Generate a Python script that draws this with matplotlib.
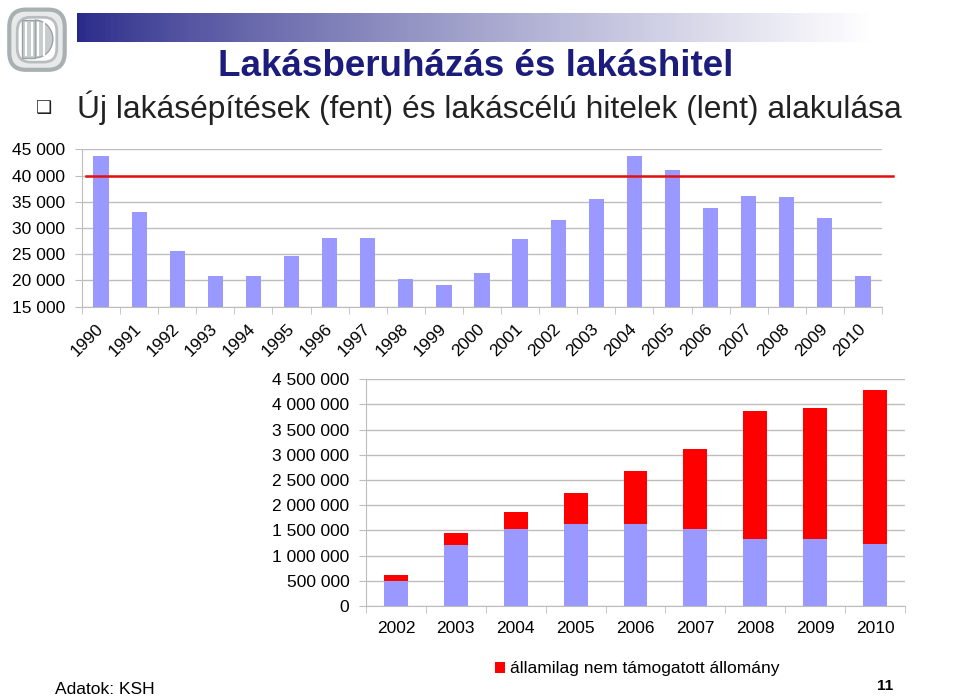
import numpy as np
import matplotlib
matplotlib.use("Agg")
import matplotlib.pyplot as plt
from matplotlib.patches import FancyBboxPatch, Rectangle, Wedge
from matplotlib.ticker import FuncFormatter, FixedLocator
from matplotlib.transforms import ScaledTranslation

plt.rcParams['font.family'] = ['Liberation Sans', 'DejaVu Sans']

# data: new dwellings (top)
years_top = [str(y) for y in range(1990, 2011)]
dwellings = [43700, 33100, 25700, 20850, 20850, 24600, 28150, 28050, 20200, 19200,
             21500, 27950, 31450, 35500, 43800, 41000, 33750, 36050, 35900, 31900, 20800]
threshold = 40000

# data: housing loans (bottom)
years_bot = [str(y) for y in range(2002, 2011)]
supported = [500000, 1215000, 1535000, 1635000, 1630000, 1530000, 1335000, 1335000, 1235000]
unsupported = [115000, 230000, 335000, 610000, 1045000, 1580000, 2535000, 2590000, 3045000]

BLUE = '#9999ff'
RED = '#ff0000'
GRID = '#bdbdbd'

def space_thousands(v, pos):
    return f"{v:,.0f}".replace(",", " ")

W, H = 960, 699
fig = plt.figure(figsize=(W / 100, H / 100), dpi=100)

# header: gradient bar
grad_ax = fig.add_axes([77 / W, 1 - 42 / H, (W - 77) / W, 29 / H])
g = np.linspace(0, 1, 256)
c0 = np.array([0.16, 0.16, 0.54])
c1 = np.array([1.0, 1.0, 1.0])
t = np.clip(g / 0.9, 0, 1) ** 0.8
img = (c0[None, :] * (1 - t[:, None]) + c1[None, :] * t[:, None])[None, :, :]
grad_ax.imshow(img, aspect='auto', extent=[0, 1, 0, 1])
grad_ax.axis('off')

# logo
logo_ax = fig.add_axes([4 / W, 1 - 74 / H, 66 / W, 70 / H])
logo_ax.set_xlim(0, 1)
logo_ax.set_ylim(0, 1)
logo_ax.axis('off')
logo_ax.add_patch(FancyBboxPatch((0.08, 0.06), 0.84, 0.86, boxstyle="round,pad=0,rounding_size=0.25",
                                 fc='#e8eaea', ec='#a9b0b2', lw=3))
logo_ax.add_patch(FancyBboxPatch((0.2, 0.17), 0.6, 0.64, boxstyle="round,pad=0,rounding_size=0.2",
                                 fc='white', ec='#b8bec0', lw=2))
logo_ax.add_patch(Wedge((0.47, 0.5), 0.27, -90, 90, fc='#c7cccd', ec='#9aa2a4', lw=1))
logo_ax.add_patch(Rectangle((0.27, 0.23), 0.2, 0.54, fc='#c7cccd', ec='#9aa2a4', lw=1))
for xv in [0.33, 0.42, 0.52, 0.6]:
    logo_ax.plot([xv, xv], [0.27, 0.73], color='white', lw=1.5)

# titles
fig.text(476 / W, 1 - 66 / H, "Lakásberuházás és lakáshitel", ha='center', va='center',
         fontsize=26.5, fontweight='bold', color='#1c1c7c')
fig.text(44 / W, 1 - 108 / H, "❑", ha='center', va='center', fontsize=13,
         family=['DejaVu Sans'], color='#222222')
fig.text(77 / W, 1 - 108 / H, "Új lakásépítések (fent) és lakáscélú hitelek (lent) alakulása",
         ha='left', va='center', fontsize=22.9, color='#222222')

# top chart
ax1 = fig.add_axes([82 / W, 1 - 306.7 / H, 800 / W, 157.4 / H])
x1 = np.arange(len(years_top))
ax1.bar(x1, dwellings, width=0.4, color=BLUE, zorder=2)
ax1.plot([-0.4, len(years_top) - 0.2], [threshold, threshold], color='#e31010', lw=1.8,
         zorder=3, clip_on=False)
ax1.set_xlim(-0.5, len(years_top) - 0.5)
ax1.set_ylim(15000, 45000)
ax1.set_yticks(range(15000, 45001, 5000))
ax1.yaxis.set_major_formatter(FuncFormatter(space_thousands))
ax1.yaxis.grid(True, color=GRID, lw=1)
ax1.set_axisbelow(True)
ax1.set_xticks(x1)
ax1.set_xticklabels(years_top, rotation=45, ha='right', va='center', rotation_mode='anchor',
                    fontsize=12.5)
shift = ScaledTranslation(6 / 100, 0, fig.dpi_scale_trans)
for lbl in ax1.get_xticklabels():
    lbl.set_transform(lbl.get_transform() + shift)
ax1.xaxis.set_minor_locator(FixedLocator(np.arange(-0.5, len(years_top), 1)))
ax1.tick_params(axis='x', which='major', length=0, pad=14)
ax1.tick_params(axis='x', which='minor', length=5, color=GRID)
ax1.tick_params(axis='y', length=5, color=GRID, labelsize=12.5, pad=7)
for s in ['top', 'right']:
    ax1.spines[s].set_visible(False)
for s in ['left', 'bottom']:
    ax1.spines[s].set_color(GRID)

# bottom chart
ax2 = fig.add_axes([366 / W, 1 - 606 / H, 539 / W, 226.7 / H])
x2 = np.arange(len(years_bot))
ax2.bar(x2, supported, width=0.4, color=BLUE, zorder=2)
ax2.bar(x2, unsupported, width=0.4, bottom=supported, color=RED, zorder=2,
        label='államilag nem támogatott állomány')
ax2.set_xlim(-0.5, len(years_bot) - 0.5)
ax2.set_ylim(0, 4500000)
ax2.set_yticks(range(0, 4500001, 500000))
ax2.yaxis.set_major_formatter(FuncFormatter(space_thousands))
ax2.yaxis.grid(True, color=GRID, lw=1)
ax2.set_axisbelow(True)
ax2.set_xticks(x2)
ax2.set_xticklabels(years_bot)
ax2.xaxis.set_minor_locator(FixedLocator(np.arange(-0.5, len(years_bot), 1)))
ax2.tick_params(axis='x', which='major', length=0, pad=11, labelsize=12.5)
ax2.tick_params(axis='x', which='minor', length=5, color=GRID)
ax2.tick_params(axis='y', length=5, color=GRID, labelsize=12.5, pad=7)
for s in ['top', 'right']:
    ax2.spines[s].set_visible(False)
for s in ['left', 'bottom']:
    ax2.spines[s].set_color(GRID)

handles, labels = ax2.get_legend_handles_labels()
fig.legend(handles[-1:], labels[-1:], loc='center left', bbox_to_anchor=(486 / W, 1 - 669 / H),
           frameon=False, fontsize=12.5, handlelength=0.6, handleheight=0.6,
           handletextpad=0.3, borderpad=0)

# footer
fig.text(55 / W, 1 - 690 / H, "Adatok: KSH", ha='left', va='center', fontsize=12.5)
fig.text(885 / W, 1 - 686 / H, "11", ha='center', va='center', fontsize=11, fontweight='bold')

fig.savefig("out.png", dpi=100)
